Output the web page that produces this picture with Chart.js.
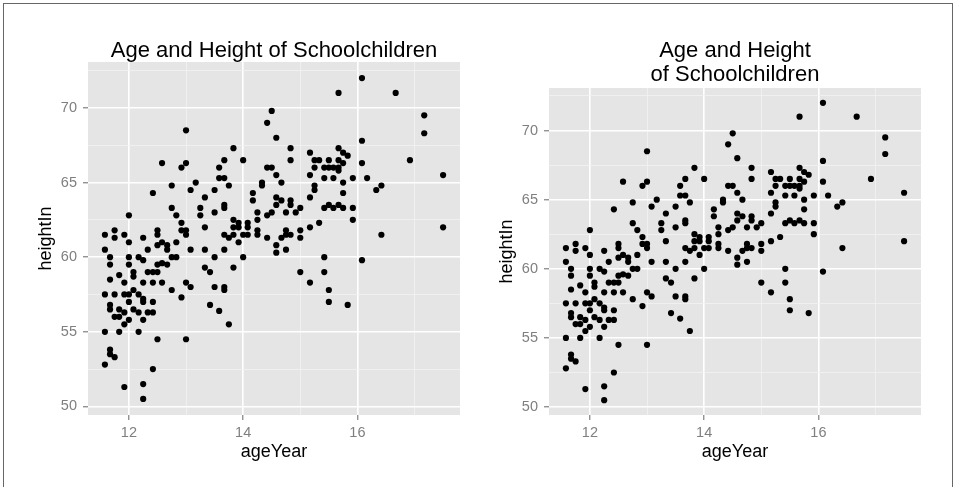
<!DOCTYPE html>
<html>
<head>
<meta charset="utf-8">
<script src="https://cdn.jsdelivr.net/npm/chart.js@4.4.0/dist/chart.umd.min.js"></script>
<style>
  html, body { margin:0; padding:0; background:#fff; }
  body { width:956px; height:487px; position:relative; overflow:hidden; }
  #frame { position:absolute; left:3px; top:3px; width:948px; height:500px; border:1px solid #666; border-bottom:none; }
  canvas { position:absolute; top:0; }
  #left { left:0; }
  #right { left:461px; }
</style>
</head>
<body>
<div id="frame"></div>
<canvas id="left" width="478" height="487"></canvas>
<canvas id="right" width="478" height="487"></canvas>
<script>
// heightweight: ageYear vs heightIn (one line per age)
const ageYear = [
  11.58,11.58,11.58,11.58,11.58,
  11.67,11.67,11.67,11.67,11.67,11.67,11.67,
  11.75,11.75,11.75,11.75,11.75,
  11.83,11.83,11.83,11.83,
  11.92,11.92,11.92,11.92,11.92,11.92,
  12.00,12.00,12.00,12.00,12.00,12.00,12.00,
  12.08,12.08,12.08,12.08,
  12.17,12.17,12.17,12.17,
  12.25,12.25,12.25,12.25,12.25,12.25,12.25,12.25,
  12.33,12.33,12.33,
  12.42,12.42,12.42,12.42,12.42,12.42,
  12.50,12.50,12.50,12.50,12.50,12.50,
  12.58,12.58,12.58,12.58,
  12.67,12.67,12.67,
  12.75,12.75,12.75,12.75,
  12.83,12.83,12.83,
  12.92,12.92,12.92,12.92,
  13.00,13.00,13.00,13.00,13.00,13.00,
  13.08,13.08,13.08,
  13.17,
  13.25,13.25,
  13.33,13.33,13.33,13.33,
  13.42,13.42,
  13.50,13.50,13.50,13.50,
  13.58,13.58,13.58,
  13.67,13.67,13.67,13.67,13.67,13.67,13.67,13.67,
  13.75,13.75,13.75,
  13.83,13.83,13.83,13.83,13.83,
  13.92,13.92,13.92,
  14.00,14.00,14.00,
  14.08,14.08,14.08,
  14.17,14.17,
  14.25,14.25,14.25,14.25,
  14.33,14.33,
  14.42,14.42,14.42,14.42,
  14.50,14.50,14.50,
  14.58,14.58,14.58,14.58,14.58,14.58,
  14.67,14.67,14.67,
  14.75,14.75,14.75,14.75,
  14.83,14.83,14.83,14.83,14.83,
  14.92,
  15.00,15.00,15.00,15.00,
  15.17,15.17,15.17,15.17,15.17,
  15.25,15.25,15.25,15.25,
  15.33,15.33,
  15.42,15.42,15.42,15.42,15.42,
  15.50,15.50,15.50,15.50,15.50,
  15.58,15.58,15.58,
  15.67,15.67,15.67,15.67,15.67,15.67,
  15.75,15.75,15.75,15.75,15.75,
  15.83,15.83,
  15.92,15.92,15.92,
  16.08,16.08,16.08,16.08,
  16.17,
  16.33,
  16.42,16.42,
  16.67,
  16.92,
  17.17,17.17,
  17.50,17.50
];
const heightIn = [
  61.5,60.5,57.5,55.0,52.8,
  60.0,59.5,58.5,56.8,56.5,53.8,53.5,
  61.8,61.3,57.5,56.0,53.3,
  58.8,56.5,56.0,55.0,
  61.5,58.3,57.5,56.3,55.5,51.3,
  62.8,61.0,60.0,59.5,57.5,57.0,55.8,
  59.0,58.7,57.8,56.5,
  60.0,57.5,56.3,55.0,
  61.3,59.8,58.3,57.2,57.0,55.8,51.5,50.5,
  60.5,59.0,56.3,
  64.3,59.0,58.3,57.0,56.3,52.5,
  61.8,61.5,60.8,59.5,59.0,54.5,
  66.3,61.0,59.6,58.3,
  60.8,60.5,59.5,
  64.8,63.3,60.0,57.8,
  62.8,61.0,60.0,
  66.0,62.3,61.8,57.3,
  68.5,66.3,61.8,61.5,58.3,54.5,
  64.5,60.5,58.0,
  65.0,
  63.3,62.8,
  64.0,62.0,60.5,59.3,
  59.0,56.8,
  64.5,63.0,60.0,58.0,
  66.0,65.3,56.4,
  66.5,65.3,63.5,63.3,61.5,60.5,58.0,57.8,
  64.8,61.3,55.5,
  67.3,62.5,62.0,61.5,59.3,
  62.3,62.0,61.0,
  66.5,61.5,60.0,
  62.3,62.0,61.5,
  64.3,63.8,
  63.0,62.5,61.8,61.5,
  65.0,64.8,
  69.0,66.0,62.8,61.3,
  69.8,66.0,63.0,
  68.0,65.5,64.0,63.5,60.8,60.3,
  65.0,63.8,61.3,
  63.0,61.8,61.5,60.5,
  67.3,66.5,63.8,63.5,61.5,
  63.0,
  63.3,61.8,61.3,59.0,
  67.0,65.5,64.0,62.0,58.3,
  66.5,66.0,64.8,64.5,
  66.5,62.3,
  66.0,65.3,63.3,60.0,59.0,
  66.5,66.0,63.5,57.8,57.0,
  66.0,65.3,63.3,
  71.0,67.3,66.5,66.0,65.8,63.5,
  67.0,66.3,65.0,64.3,63.3,
  66.8,56.8,
  65.3,63.3,62.5,
  72.0,67.8,66.3,59.8,
  65.3,
  64.5,
  64.8,61.5,
  71.0,
  66.5,
  69.5,68.3,
  65.5,62.0
];
const xTickValues = [12, 13, 14, 15, 16, 17];               // 13,15,17 = minor lines
const yTickValues = [50, 52.5, 55, 57.5, 60, 62.5, 65, 67.5, 70, 72.5];

const points = ageYear.map((a, i) => ({ x: a, y: heightIn[i] }));

// ggplot-style 5% expansion of the data range
function expand(arr){
  const lo = Math.min(...arr), hi = Math.max(...arr), d = (hi - lo) * 0.05;
  return [lo - d, hi + d];
}
const [xMin, xMax] = expand(ageYear);
const [yMin, yMax] = expand(heightIn);

Chart.defaults.font.family = "'Liberation Sans', Arial, Helvetica, sans-serif";
Chart.defaults.responsive = false;
Chart.defaults.animation = false;

const plotBg = {
  id: "plotBg",
  beforeDraw(chart){
    const { ctx, chartArea: a } = chart;
    ctx.save();
    ctx.fillStyle = "#e5e5e5";
    ctx.fillRect(a.left, a.top, a.right - a.left, a.bottom - a.top);
    ctx.restore();
  }
};

function gridFor(isMajor){
  return {
    color: c => isMajor(c.tick && c.tick.value) ? "#ffffff" : "#f2f2f2",
    lineWidth: c => isMajor(c.tick && c.tick.value) ? 1.6 : 0.8,
    tickColor: c => isMajor(c.tick && c.tick.value) ? "#666666" : "rgba(0,0,0,0)",
    tickLength: 5,
    tickWidth: 1
  };
}

function makeChart(id, title, titleOpts){
  const xMajor = v => v % 2 === 0;
  const yMajor = v => v % 5 === 0;
  return new Chart(document.getElementById(id), {
    type: "scatter",
    data: { datasets: [{ data: points, backgroundColor: "#000", borderWidth: 0, pointRadius: 3.1, pointHoverRadius: 3.1 }] },
    options: {
      layout: { padding: { left: 0, right: 18, top: 0, bottom: 22 } },
      plugins: {
        legend: { display: false },
        tooltip: { enabled: false },
        title: Object.assign({ display: true, text: title, color: "#000", fullSize: false }, titleOpts)
      },
      scales: {
        x: {
          type: "linear", min: xMin, max: xMax,
          afterBuildTicks: s => { s.ticks = xTickValues.map(v => ({ value: v })); },
          afterFit: s => { s.height = 50; },
          ticks: { color: "#7f7f7f", font: { size: 14.5 }, padding: 4.5, maxRotation: 0,
                   callback: v => xMajor(v) ? String(v) : "" },
          grid: gridFor(xMajor),
          border: { display: false },
          title: { display: true, text: "ageYear", color: "#000", font: { size: 18 }, padding: { top: 0, bottom: 1.7 } }
        },
        y: {
          type: "linear", min: yMin, max: yMax,
          afterBuildTicks: s => { s.ticks = yTickValues.map(v => ({ value: v })); },
          afterFit: s => { s.width = 88; },
          ticks: { color: "#7f7f7f", font: { size: 14.5 }, padding: 6,
                   callback: v => yMajor(v) ? String(v) : "" },
          grid: gridFor(yMajor),
          border: { display: false },
          title: { display: true, text: "heightIn", color: "#000", font: { size: 18 }, padding: { top: 35.2, bottom: 0 } }
        }
      }
    },
    plugins: [plotBg]
  });
}

makeChart("left", "Age and Height of Schoolchildren",
  { font: { size: 22, weight: "normal", lineHeight: 1.0 }, padding: { top: 40, bottom: 0 } });
makeChart("right", ["Age and Height", "of Schoolchildren"],
  { font: { size: 22, weight: "normal", lineHeight: 1.1 }, padding: { top: 39, bottom: 0.6 } });
</script>
</body>
</html>
